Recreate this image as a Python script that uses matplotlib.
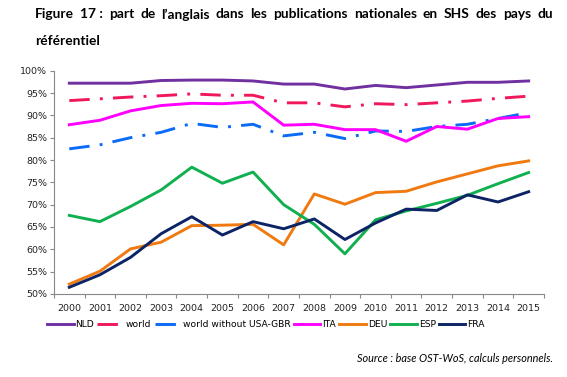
import matplotlib.pyplot as plt
from matplotlib.ticker import FuncFormatter

years = [str(y) for y in range(2000, 2016)]

nld = [97.2, 97.2, 97.2, 97.8, 97.9, 97.9, 97.7, 97.0, 97.0, 95.9, 96.7, 96.2, 96.8, 97.4, 97.4, 97.7]
world = [93.3, 93.7, 94.1, 94.4, 94.8, 94.5, 94.5, 92.8, 92.8, 91.9, 92.6, 92.4, 92.8, 93.2, 93.8, 94.3]
world_wo = [82.5, 83.4, 85.0, 86.2, 88.2, 87.3, 88.0, 85.4, 86.2, 84.8, 86.5, 86.4, 87.5, 88.0, 89.3, 90.6]
ita = [87.9, 88.9, 91.0, 92.2, 92.7, 92.6, 93.0, 87.8, 88.0, 86.8, 86.8, 84.2, 87.5, 86.9, 89.3, 89.7]
deu = [52.2, 55.1, 60.1, 61.6, 65.3, 65.4, 65.6, 61.0, 72.4, 70.1, 72.7, 73.0, 75.1, 76.9, 78.7, 79.8]
esp = [67.6, 66.2, 69.6, 73.3, 78.4, 74.8, 77.3, 70.0, 65.6, 59.0, 66.6, 68.6, 70.3, 72.1, 74.7, 77.2]
fra = [51.5, 54.3, 58.2, 63.5, 67.3, 63.2, 66.2, 64.6, 66.8, 62.2, 65.9, 69.0, 68.7, 72.2, 70.6, 72.9]

title_line1 = "Figure 17\u00a0: part de l\u2019anglais dans les publications nationales en SHS des pays du"
title_line2 = "r\u00e9f\u00e9rentiel"
source = "Source : base OST-WoS, calculs personnels."

series = [
    ("NLD", nld, "#7030A0", "-"),
    ("world", world, "#F0185A", (0, (7, 3.5, 1, 3.5))),
    ("world without USA-GBR", world_wo, "#0A6CF5", (0, (7, 3.5, 1, 3.5))),
    ("ITA", ita, "#FF00FF", "-"),
    ("DEU", deu, "#F07A10", "-"),
    ("ESP", esp, "#10B050", "-"),
    ("FRA", fra, "#0C2466", "-"),
]


def justified_line(fig, text, x0, x1, y, **kw):
    # place words one by one so the line fills x0..x1 (figure fraction)
    renderer = fig.canvas.get_renderer()
    words = text.split(" ")
    objs = [fig.text(0, y, w, ha="left", va="center", **kw) for w in words]
    widths = [o.get_window_extent(renderer).width / fig.bbox.width for o in objs]
    gap = (x1 - x0 - sum(widths)) / (len(words) - 1)
    pos = x0
    for o, w in zip(objs, widths):
        o.set_x(pos)
        pos += w + gap


fig = plt.figure(figsize=(5.67, 3.77), dpi=100)
ax = fig.add_axes([0.0952, 0.2202, 0.8642, 0.5923])

x = list(range(len(years)))
for name, vals, color, ls in series:
    ax.plot(x, vals, color=color, linestyle=ls, linewidth=2.1, label=name,
            solid_joinstyle="round", dash_capstyle="butt")

ax.set_xlim(-0.5, len(years) - 0.5)
ax.set_ylim(50, 100)
ax.set_yticks(range(50, 101, 5))
ax.yaxis.set_major_formatter(FuncFormatter(lambda v, p: "%d%%" % v))
ax.set_xticks(x)
ax.set_xticklabels(years)
ax.set_xticks([i - 0.5 for i in range(len(years) + 1)], minor=True)
ax.tick_params(axis="x", which="major", length=0, labelsize=6.8, pad=7, labelcolor="#222222")
ax.tick_params(axis="x", which="minor", length=3, color="#888888", width=0.8)
ax.tick_params(axis="y", length=3, color="#888888", width=0.8, labelsize=6.8, pad=2,
               labelcolor="#222222")

for side in ["top", "right"]:
    ax.spines[side].set_visible(False)
for side in ["left", "bottom"]:
    ax.spines[side].set_color("#888888")
    ax.spines[side].set_linewidth(0.8)

fig.legend(loc="center", bbox_to_anchor=(0.469, 0.138), ncol=7, frameon=False,
           fontsize=6.6, handlelength=2.9, handletextpad=0.2, columnspacing=0.35)

justified_line(fig, title_line1, 0.062, 0.975, 0.962, fontsize=9.9,
               fontweight="bold", family="Lato")
fig.text(0.062, 0.892, title_line2, fontsize=9.9, fontweight="bold",
         family="Lato", va="center", ha="left")
fig.text(0.975, 0.048, source, fontsize=7.8, style="italic", family="Lato",
         ha="right", va="center")

fig.savefig("out.png", dpi=100)
